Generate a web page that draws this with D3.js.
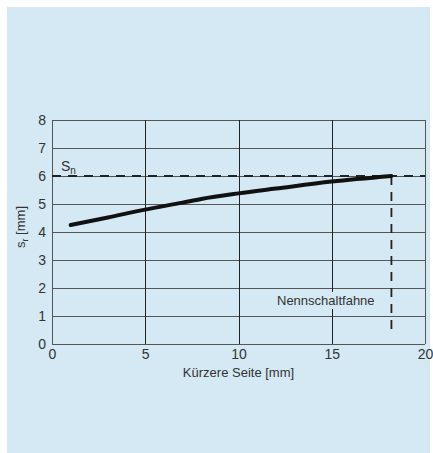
<!DOCTYPE html>
<html>
<head>
<meta charset="utf-8">
<script src="https://cdn.jsdelivr.net/npm/d3@7"></script>
<style>
	body { margin: 0; background: #fff; }
	text { font-family: "Liberation Sans", Arial, sans-serif; fill: #333; }
</style>
</head>
<body>
<div id="chart"></div>
<script>
// ---------- DATA ----------
const xTicks = [0, 5, 10, 15, 20];
const yTicks = [0, 1, 2, 3, 4, 5, 6, 7, 8];
const curveX = [1, 3, 5, 7, 8, 10, 12, 15, 18.2];
const curveY = [4.25, 4.52, 4.8, 5.05, 5.18, 5.38, 5.55, 5.8, 6.0];
const snValue = 6;
const nennX = 18.2;
const nennBottom = 0.4;

const width = 433;
const height = 453;
const margin = { top: 120, right: 8, bottom: 109, left: 52 };
const panelColor = "#d4e9f4";

const svg = d3
	.select("#chart")
	.append("svg")
	.attr("width", width)
	.attr("height", height);

// light blue panel
svg.append("rect")
	.attr("x", 7)
	.attr("y", 7)
	.attr("width", 423)
	.attr("height", 446)
	.attr("fill", panelColor);

const xScale = d3.scaleLinear().domain([0, 20]).range([margin.left, width - margin.right]);
const yScale = d3.scaleLinear().domain([0, 8]).range([height - margin.bottom, margin.top]);

const grid = svg.append("g");

// horizontal grid lines
grid.selectAll(".hgrid")
	.data(yTicks)
	.enter()
	.append("line")
	.attr("x1", xScale(0))
	.attr("x2", xScale(20))
	.attr("y1", (d) => Math.round(yScale(d)) + 0.5)
	.attr("y2", (d) => Math.round(yScale(d)) + 0.5)
	.attr("stroke", "#555")
	.attr("stroke-width", 1);

// vertical grid lines
grid.selectAll(".vgrid")
	.data(xTicks)
	.enter()
	.append("line")
	.attr("x1", (d) => Math.round(xScale(d)) + 0.5)
	.attr("x2", (d) => Math.round(xScale(d)) + 0.5)
	.attr("y1", yScale(8))
	.attr("y2", yScale(0))
	.attr("stroke", (d) => (d === 0 || d === 20 ? "#555" : "#222"))
	.attr("stroke-width", 1);

// axes (labels only)
const xAxis = svg.append("g")
	.attr("transform", `translate(0, ${yScale(0)})`)
	.call(d3.axisBottom(xScale).tickValues(xTicks).tickSize(0).tickPadding(5));
const yAxis = svg.append("g")
	.attr("transform", `translate(${xScale(0)}, 0)`)
	.call(d3.axisLeft(yScale).tickValues(yTicks).tickSize(0).tickPadding(6));
[xAxis, yAxis].forEach((ax) => {
	ax.select(".domain").remove();
	ax.selectAll("text")
		.attr("font-size", 14)
		.attr("font-family", "Liberation Sans, Arial, sans-serif")
		.attr("fill", "#333");
});

// dashed reference lines
svg.append("line")
	.attr("x1", xScale(0))
	.attr("x2", xScale(20))
	.attr("y1", yScale(snValue))
	.attr("y2", yScale(snValue))
	.attr("stroke", "#222")
	.attr("stroke-width", 1.8)
	.attr("stroke-dasharray", "9,7");
svg.append("line")
	.attr("x1", xScale(nennX))
	.attr("x2", xScale(nennX))
	.attr("y1", yScale(snValue))
	.attr("y2", yScale(nennBottom))
	.attr("stroke", "#222")
	.attr("stroke-width", 1.8)
	.attr("stroke-dasharray", "9,7");

// curve
const line = d3.line()
	.x((d) => xScale(d[0]))
	.y((d) => yScale(d[1]))
	.curve(d3.curveMonotoneX);
svg.append("path")
	.datum(curveX.map((x, i) => [x, curveY[i]]))
	.attr("d", line)
	.attr("fill", "none")
	.attr("stroke", "#111")
	.attr("stroke-width", 4)
	.attr("stroke-linecap", "round");

// annotations
const sn = svg.append("text")
	.attr("x", 61)
	.attr("y", 171)
	.attr("font-size", 14);
sn.append("tspan").text("S");
sn.append("tspan").attr("font-size", 10).attr("dy", 3).text("n");

// label with a background box that hides the grid behind it
const nennG = svg.append("g");
const nennText = nennG.append("text")
	.attr("x", 277)
	.attr("y", 305)
	.attr("font-size", 13)
	.text("Nennschaltfahne");
const bb = nennText.node().getBBox();
nennG.insert("rect", "text")
	.attr("x", bb.x - 3)
	.attr("y", bb.y - 1)
	.attr("width", bb.width + 6)
	.attr("height", bb.height + 2)
	.attr("fill", panelColor);

// axis titles
svg.append("text")
	.attr("x", xScale(10))
	.attr("y", 377)
	.attr("text-anchor", "middle")
	.attr("font-size", 13)
	.text("Kürzere Seite [mm]");

const yTitle = svg.append("text")
	.attr("transform", `translate(25, 227) rotate(-90)`)
	.attr("text-anchor", "middle")
	.attr("font-size", 13);
yTitle.append("tspan").text("s");
yTitle.append("tspan").attr("font-size", 9).attr("dy", 3).text("r");
yTitle.append("tspan").attr("dy", -3).text(" [mm]");
</script>
</body>
</html>
